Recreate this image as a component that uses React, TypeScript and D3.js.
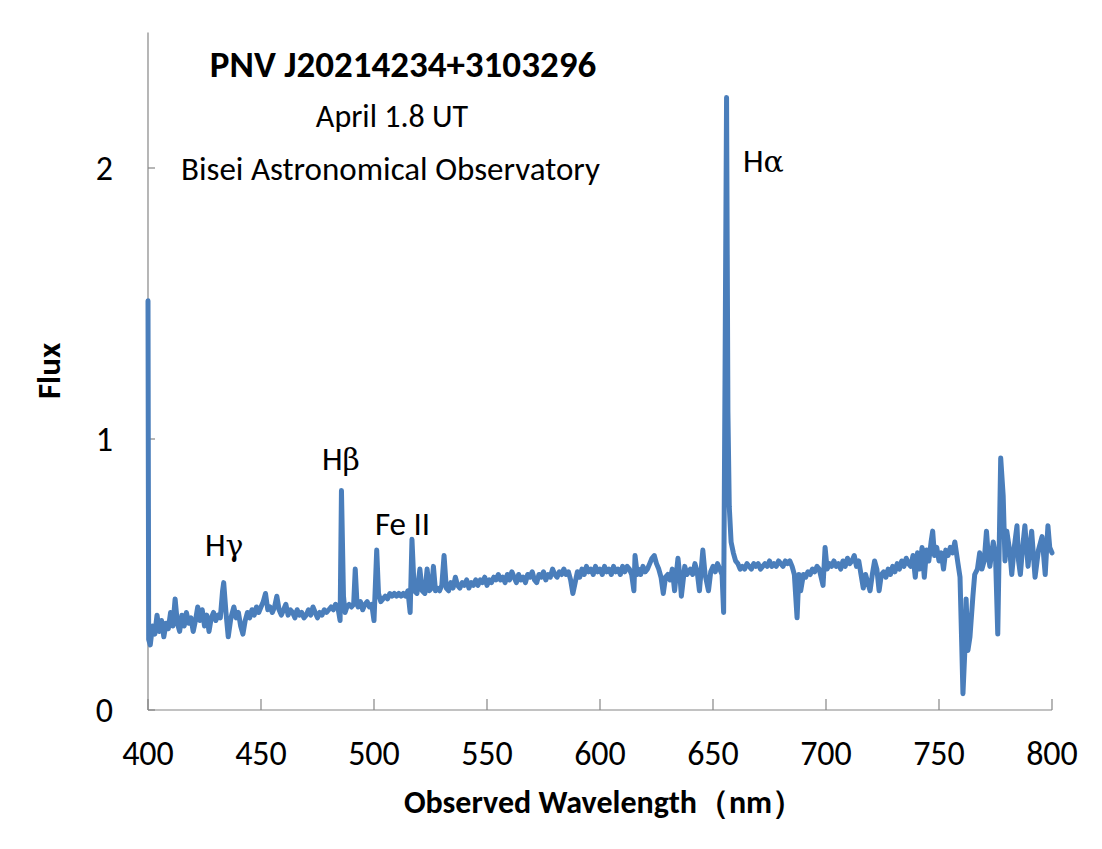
import React from "react";
import * as d3 from "d3";

const wavelength: number[] = [
  400.0, 400.3, 401, 402, 403, 404, 405, 406, 407, 408, 409, 410, 411, 412, 413, 414, 415, 416, 417, 418, 419,
  420, 421, 422, 423, 424, 425, 426, 427, 428, 429, 430, 431, 432, 433, 433.5, 434.5, 435.5, 436.5, 437, 438, 439,
  440, 441, 442, 443, 444, 445, 446, 447, 448, 449, 450, 451, 452, 453, 454, 455, 456, 457, 458, 459,
  460, 461, 462, 463, 464, 465, 466, 467, 468, 469, 470, 471, 472, 473, 474, 475, 476, 477, 478, 479,
  480, 481, 482, 483, 484, 485, 485.6, 486.5, 487.2, 488, 489, 490, 491, 491.7, 492.5, 493, 494, 495, 496, 497, 498, 499,
  500, 501.2, 502, 503, 504, 505, 506, 507, 508, 509, 510, 511, 512, 513, 514, 515, 516, 516.8, 517.8, 519,
  520.3, 521.3, 522.5, 523.5, 524.5, 525.5, 526.3, 527.2, 528, 529, 530, 531, 532, 533, 534, 535, 536, 537, 538, 539,
  540, 541, 542, 543, 544, 545, 546, 547, 548, 549, 550, 551, 552, 553, 554, 555, 556, 557, 558, 559,
  560, 561, 562, 563, 564, 565, 566, 567, 568, 569, 570, 571, 572, 573, 574, 575, 576, 577, 578, 579,
  580, 581, 582, 583, 584, 585, 586, 587, 588, 589, 590, 591, 592, 593, 594, 595, 596, 597, 598, 599,
  600, 601, 602, 603, 604, 605, 606, 607, 608, 609, 610, 611, 612, 613, 614, 615, 615.5, 616.5, 617, 618, 619,
  620, 621, 622, 623, 624, 625, 626, 627, 628, 629, 630, 631, 632, 633, 634.5, 635.5, 636, 637.5, 638.5,
  640, 641, 642, 643, 644, 645.5, 646.5, 648, 649, 650, 651, 652, 653, 654, 654.7, 655.3, 656.0, 656.6, 657.2, 658, 659,
  660, 661, 662, 663, 664, 665, 666, 667, 668, 669, 670, 671, 672, 673, 674, 675, 676, 677, 678, 679,
  680, 681, 682, 683, 684, 685, 686, 687.2, 688, 688.8, 690, 691, 692, 693, 694, 695, 696, 697, 698.7, 699.6,
  700.5, 701.5, 702.5, 703.5, 704.5, 705.5, 706.5, 707.5, 708.5, 709.5, 710.5, 711.5, 712.5, 713.5, 714.5, 715.5, 716.5, 717.5, 718.5, 719.5,
  720.5, 721.5, 722.5, 723.5, 724.5, 725.5, 726.5, 727.5, 728.5, 729.5, 730.5, 731.5, 732.5, 733.5, 734.5, 735.5, 736.5, 737.5, 738.5, 739.5,
  740.5, 741.5, 742.5, 743.5, 744.5, 745.5, 746.5, 747.2, 748, 749, 750, 751, 752, 753, 754, 755, 756, 757, 758.4, 759.3,
  760, 760.6, 761.5, 762, 762.8, 763.7, 765, 765.8, 767, 768, 769, 770, 771, 771.8, 772.5, 774, 775, 776, 777.3, 778.4,
  779.2, 780, 781.4, 782.2, 783.3, 784.5, 785.2, 786, 787, 788, 789.4, 790.2, 791, 792.5, 794, 795.6, 797, 798.2, 799, 800,
];

const flux: number[] = [
  1.51, 0.26, 0.24, 0.31, 0.28, 0.35, 0.29, 0.33, 0.27, 0.32, 0.30, 0.36, 0.31, 0.41, 0.32, 0.29, 0.35, 0.31, 0.36, 0.32, 0.34,
  0.29, 0.33, 0.38, 0.33, 0.37, 0.31, 0.35, 0.29, 0.34, 0.36, 0.33, 0.35, 0.34, 0.44, 0.47, 0.36, 0.27, 0.33, 0.35, 0.38, 0.34,
  0.36, 0.31, 0.28, 0.33, 0.36, 0.34, 0.37, 0.35, 0.38, 0.36, 0.38, 0.40, 0.43, 0.37, 0.38, 0.36, 0.38, 0.42, 0.37, 0.35,
  0.37, 0.39, 0.35, 0.37, 0.36, 0.34, 0.37, 0.35, 0.36, 0.34, 0.35, 0.37, 0.35, 0.38, 0.36, 0.34, 0.36, 0.35, 0.37, 0.36,
  0.37, 0.38, 0.37, 0.39, 0.38, 0.33, 0.81, 0.42, 0.36, 0.38, 0.39, 0.38, 0.39, 0.52, 0.39, 0.38, 0.40, 0.37, 0.39, 0.40, 0.38, 0.39,
  0.33, 0.59, 0.43, 0.40, 0.41, 0.42, 0.41, 0.43, 0.42, 0.43, 0.42, 0.43, 0.42, 0.43, 0.42, 0.44, 0.36, 0.63, 0.44, 0.43,
  0.52, 0.44, 0.43, 0.52, 0.44, 0.45, 0.53, 0.44, 0.45, 0.44, 0.46, 0.57, 0.45, 0.44, 0.47, 0.45, 0.49, 0.46, 0.45, 0.47,
  0.46, 0.48, 0.45, 0.47, 0.46, 0.48, 0.46, 0.48, 0.47, 0.49, 0.46, 0.48, 0.47, 0.49, 0.48, 0.50, 0.48, 0.49, 0.47, 0.50,
  0.48, 0.51, 0.49, 0.47, 0.50, 0.48, 0.49, 0.47, 0.50, 0.49, 0.51, 0.48, 0.47, 0.50, 0.49, 0.51, 0.48, 0.50, 0.49, 0.52,
  0.50, 0.49, 0.51, 0.50, 0.52, 0.50, 0.51, 0.48, 0.43, 0.47, 0.51, 0.49, 0.52, 0.50, 0.53, 0.51, 0.52, 0.50, 0.53, 0.51,
  0.52, 0.50, 0.53, 0.51, 0.52, 0.50, 0.53, 0.51, 0.52, 0.50, 0.53, 0.51, 0.53, 0.52, 0.50, 0.44, 0.57, 0.50, 0.52, 0.50, 0.53,
  0.51, 0.52, 0.54, 0.56, 0.57, 0.54, 0.52, 0.49, 0.43, 0.49, 0.50, 0.48, 0.52, 0.44, 0.56, 0.48, 0.42, 0.53, 0.50,
  0.52, 0.50, 0.54, 0.51, 0.44, 0.59, 0.50, 0.44, 0.51, 0.53, 0.51, 0.54, 0.52, 0.50, 0.36, 1.20, 2.26, 1.10, 0.75, 0.62, 0.58,
  0.55, 0.54, 0.52, 0.53, 0.52, 0.54, 0.53, 0.52, 0.54, 0.53, 0.54, 0.52, 0.53, 0.54, 0.53, 0.55, 0.53, 0.54, 0.53, 0.55,
  0.54, 0.53, 0.55, 0.54, 0.55, 0.53, 0.50, 0.34, 0.50, 0.44, 0.50, 0.49, 0.51, 0.50, 0.52, 0.51, 0.53, 0.52, 0.46, 0.60,
  0.52, 0.54, 0.53, 0.55, 0.53, 0.54, 0.52, 0.55, 0.53, 0.56, 0.54, 0.55, 0.57, 0.53, 0.55, 0.50, 0.45, 0.50, 0.47, 0.44,
  0.50, 0.55, 0.52, 0.44, 0.50, 0.51, 0.49, 0.52, 0.50, 0.53, 0.51, 0.54, 0.52, 0.55, 0.53, 0.56, 0.54, 0.53, 0.57, 0.49,
  0.58, 0.52, 0.60, 0.49, 0.59, 0.55, 0.62, 0.66, 0.57, 0.60, 0.55, 0.58, 0.52, 0.59, 0.57, 0.60, 0.58, 0.62, 0.54, 0.49,
  0.26, 0.06, 0.23, 0.41, 0.22, 0.27, 0.42, 0.50, 0.52, 0.58, 0.52, 0.55, 0.66, 0.57, 0.53, 0.62, 0.57, 0.28, 0.93, 0.79,
  0.55, 0.66, 0.58, 0.50, 0.60, 0.68, 0.55, 0.50, 0.60, 0.68, 0.53, 0.60, 0.66, 0.49, 0.59, 0.64, 0.50, 0.68, 0.60, 0.58,
];

const xTicks: number[] = [400, 450, 500, 550, 600, 650, 700, 750, 800];
const yTicks: number[] = [0, 1, 2];

const lineLabels: { base: string; greek: string; wl: number; fl: number }[] = [
  { base: "H", greek: "γ", wl: 425.2, fl: 0.57 },
  { base: "H", greek: "β", wl: 477, fl: 0.885 },
  { base: "Fe II", greek: "", wl: 500.4, fl: 0.646 },
  { base: "H", greek: "α", wl: 663.3, fl: 1.985 },
];

const FONT = "Carlito, Lato, 'Noto Sans', sans-serif";

export default function App() {
  const width = 1102;
  const height = 849;
  const x = d3.scaleLinear().domain([400, 800]).range([148, 1052]);
  const y = d3.scaleLinear().domain([0, 2.5]).range([710, 32.5]);
  const pts: [number, number][] = wavelength.map((w, i) => [w, flux[i]]);
  const line = d3
    .line<[number, number]>()
    .x((d) => x(d[0]))
    .y((d) => y(d[1]));

  return (
    <div style={{ position: "absolute", left: 0, top: 0 }}>
      <svg width={width} height={height} style={{ display: "block", background: "#fff" }}>
        <rect width={width} height={height} fill="#fff" />
        <line x1={x(400)} x2={x(400)} y1={y(2.5)} y2={y(0)} stroke="#868686" strokeWidth={1.2} />
        <line x1={x(400)} x2={x(800)} y1={y(0)} y2={y(0)} stroke="#868686" strokeWidth={1.2} />
        {xTicks.map((t) => (
          <g key={"xt" + t}>
            <line x1={x(t)} x2={x(t)} y1={y(0)} y2={y(0) - 11} stroke="#868686" strokeWidth={1.2} />
            <text x={x(t)} y={y(0) + 55} textAnchor="middle" fontFamily={FONT} fontSize={34} fill="#000">
              {t}
            </text>
          </g>
        ))}
        {yTicks.map((t) => (
          <g key={"yt" + t}>
            <line x1={x(400)} x2={x(400) + 7} y1={y(t)} y2={y(t)} stroke="#868686" strokeWidth={1.2} />
            <text x={113} y={y(t) + 12} textAnchor="end" fontFamily={FONT} fontSize={34} fill="#000">
              {t}
            </text>
          </g>
        ))}
        <path d={line(pts) || ""} fill="none" stroke="#4a7ebb" strokeWidth={5} strokeLinejoin="round" strokeLinecap="round" />
        <text x={604} y={813} textAnchor="middle" fontFamily={FONT} fontSize={32} fontWeight="bold" fill="#000">
          Observed Wavelength（nm）
        </text>
        <text
          transform="translate(60,371) rotate(-90)"
          textAnchor="middle"
          fontFamily={FONT}
          fontSize={33}
          fontWeight="bold"
          fill="#000"
        >
          Flux
        </text>
        <text x={403} y={77} textAnchor="middle" fontFamily={FONT} fontSize={37} fontWeight="bold" fill="#000">
          PNV J20214234+3103296
        </text>
        <text x={392} y={127} textAnchor="middle" fontFamily={FONT} fontSize={32} fill="#000">
          April 1.8 UT
        </text>
        <text x={390.5} y={180} textAnchor="middle" fontFamily={FONT} fontSize={33} fill="#000">
          Bisei Astronomical Observatory
        </text>
        {lineLabels.map((l) => (
          <text key={l.base + l.greek} x={x(l.wl)} y={y(l.fl)} fontFamily={FONT} fontSize={33} fill="#000">
            {l.base}
            {l.greek && <tspan fontFamily="'DejaVu Serif', 'Liberation Serif', serif" fontSize={30}>{l.greek}</tspan>}
          </text>
        ))}
      </svg>
    </div>
  );
}
